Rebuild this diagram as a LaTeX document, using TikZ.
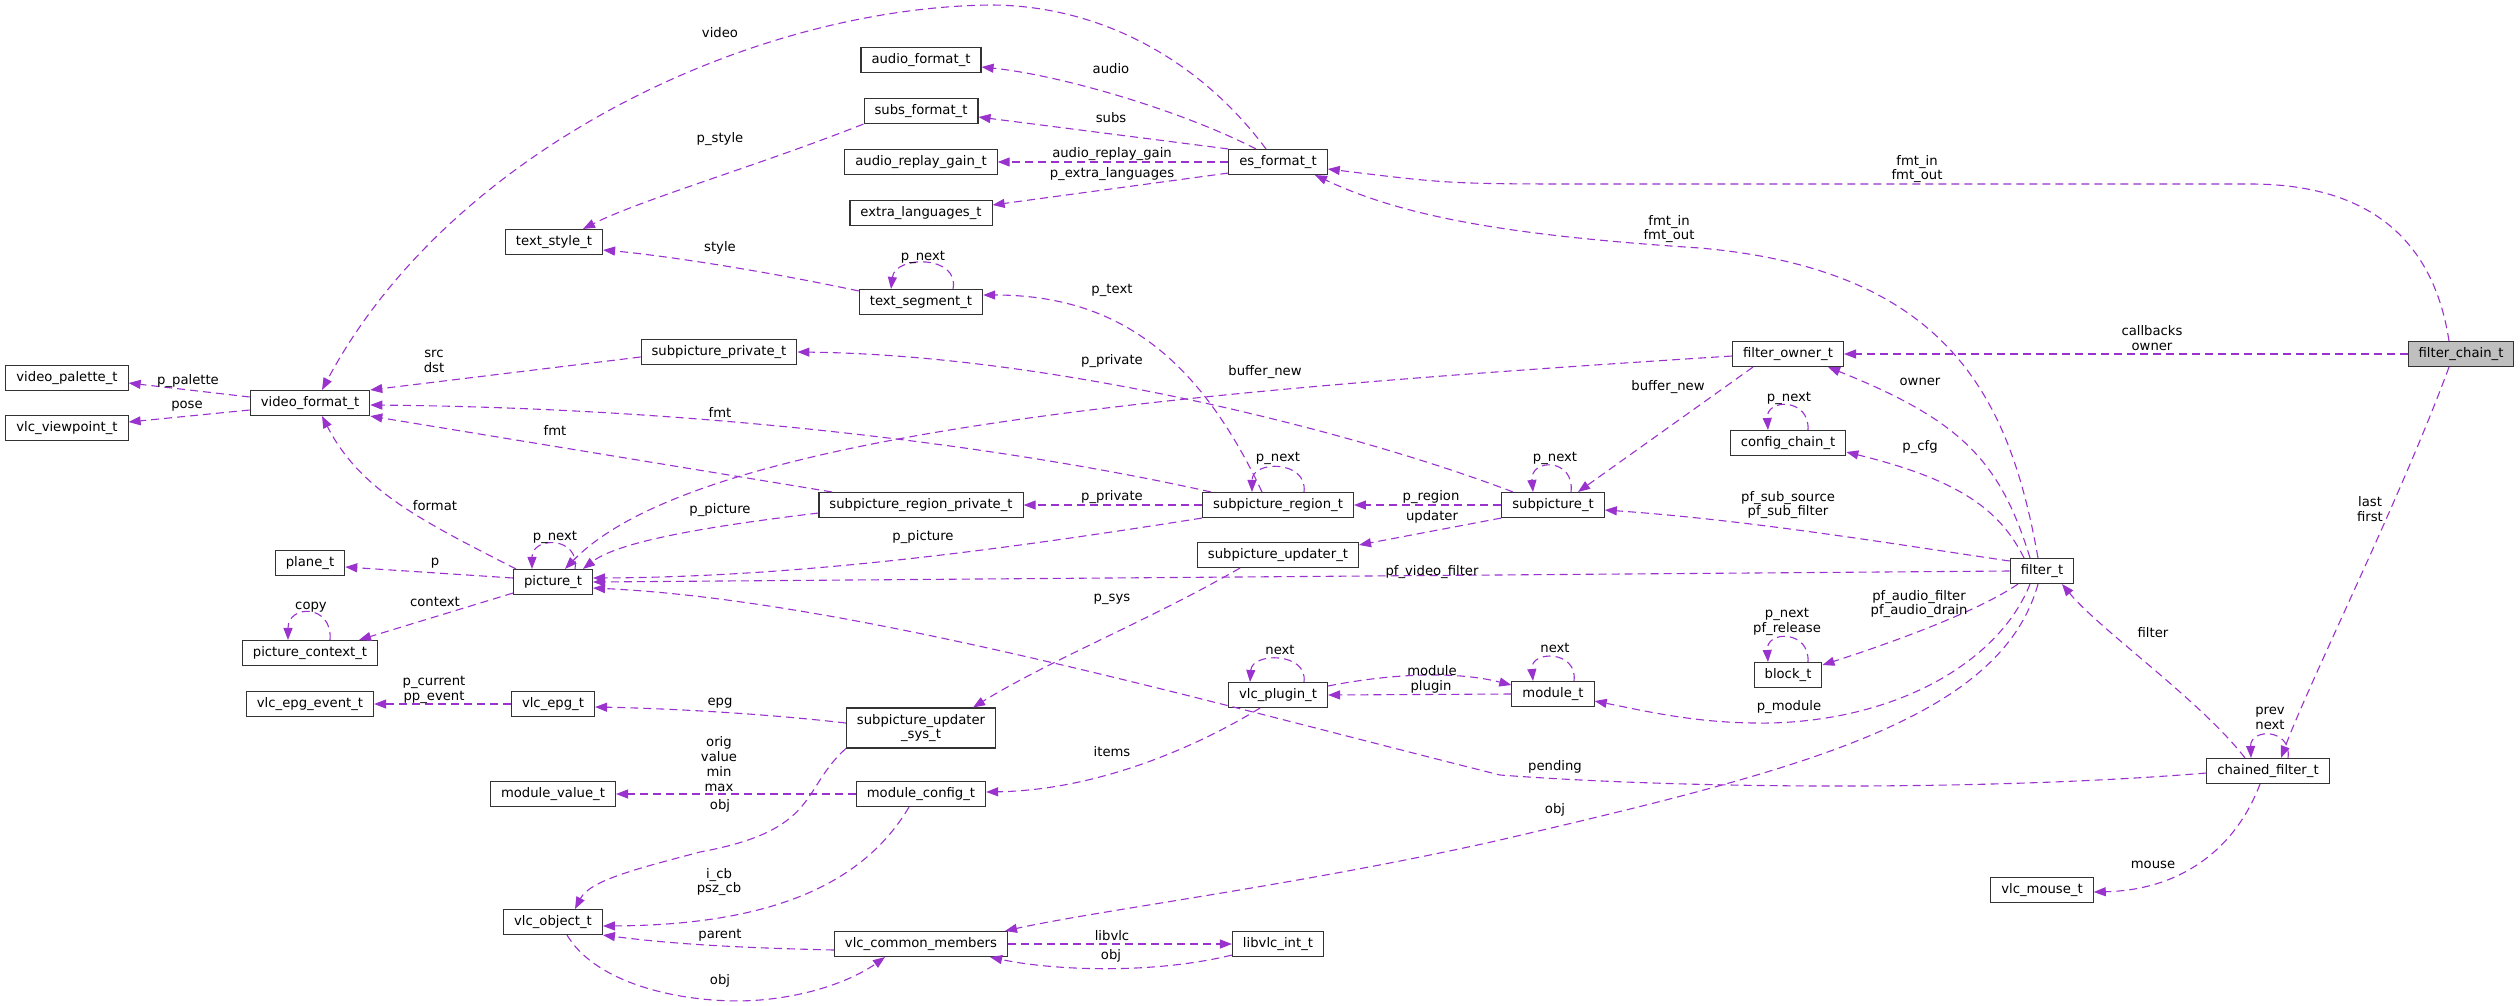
\documentclass[tikz,border=0pt]{standalone}
\usepackage{fontspec}
\setmainfont{DejaVu Sans}
\usetikzlibrary{arrows.meta}
\definecolor{usage}{RGB}{154,50,205}

\begin{document}
\begin{tikzpicture}[x=1pt,y=-1pt,
  every node/.style={font=\fontsize{13.2}{14.8}\selectfont},
  cls/.style={draw=black!80,fill=white,line width=1.1pt,inner xsep=10.5pt,inner ysep=0pt,minimum height=25pt,align=center},
  lbl/.style={inner sep=0pt,align=center},
  member/.style={draw=usage,line width=1.1pt,dash pattern=on 8pt off 5pt,-{Triangle[length=12pt,width=9pt]}}]
  \useasboundingbox (0,0) rectangle (2520,1005);
  \path (1278,162) node[cls] (es) {es\_format\_t}
  (921,60) node[cls] (afmt) {audio\_format\_t} (921,111) node[cls] (sfmt) {subs\_format\_t}
  (921,162) node[cls] (gain) {audio\_replay\_gain\_t} (921,213) node[cls] (xlang) {extra\_languages\_t}
  (554,242) node[cls] (tstyle) {text\_style\_t} (921,302) node[cls] (tseg) {text\_segment\_t}
  (67,378) node[cls] (vpal) {video\_palette\_t} (67,428) node[cls] (vview) {vlc\_viewpoint\_t}
  (310,403) node[cls] (vfmt) {video\_format\_t} (719,352) node[cls] (sppriv) {subpicture\_private\_t}
  (1788,354) node[cls] (fowner) {filter\_owner\_t} (2461,354) node[cls,fill=black!25] (fchain) {filter\_chain\_t}
  (1788,443) node[cls] (cfgchain) {config\_chain\_t} (310,563) node[cls] (plane) {plane\_t}
  (553,582) node[cls] (pic) {picture\_t} (921,505) node[cls] (srpriv) {subpicture\_region\_private\_t}
  (1278,505) node[cls] (sregion) {subpicture\_region\_t} (1553,505) node[cls] (spu) {subpicture\_t}
  (1278,555) node[cls] (supd) {subpicture\_updater\_t} (2042,571) node[cls] (filter) {filter\_t}
  (310,653) node[cls] (picctx) {picture\_context\_t} (1788,675) node[cls] (block) {block\_t}
  (310,704) node[cls] (epgev) {vlc\_epg\_event\_t} (553,704) node[cls] (epg) {vlc\_epg\_t}
  (921,728) node[cls,minimum height=40pt] (supdsys) {subpicture\_updater\\\_sys\_t}
  (1278,695) node[cls] (plugin) {vlc\_plugin\_t} (1553,694) node[cls] (module) {module\_t}
  (2268,771) node[cls] (chained) {chained\_filter\_t} (553,794) node[cls] (modval) {module\_value\_t}
  (921,794) node[cls] (modcfg) {module\_config\_t} (553,922) node[cls] (vobj) {vlc\_object\_t}
  (921,944) node[cls] (common) {vlc\_common\_members} (1278,944) node[cls] (libvlc) {libvlc\_int\_t}
  (2042,890) node[cls] (mouse) {vlc\_mouse\_t};

  \draw[member] ([xshift=-12pt]es.north) .. controls (1200,60) and (1100,5) .. (990,5) .. controls (750,8) and (450,150) .. ([xshift=12pt]vfmt.north);
  \draw[member] ([xshift=-22pt]es.north) .. controls (1180,110) and (1060,75) .. ([yshift=-7pt]afmt.east);
  \draw[member] (es.north west) -- ([yshift=-6pt]sfmt.east);
  \draw[member] (es.west) -- (gain.east);
  \draw[member] ([yshift=2pt]es.south west) -- ([yshift=8pt]xlang.east);
  \draw[member] (sfmt.south west) .. controls (760,165) and (640,200) .. ([xshift=29pt]tstyle.north);
  \draw[member] ([yshift=-2pt]tseg.north west) .. controls (760,270) and (660,255) .. ([yshift=-8pt]tstyle.east);
  \draw[member] ([xshift=32pt]tseg.north) .. controls (960,255) and (895,255) .. ([xshift=-30pt]tseg.north);
  \draw[member] ([xshift=-16pt]sregion.north) .. controls (1200,360) and (1120,295) .. ([yshift=7pt]tseg.east);
  \draw[member] ([yshift=-5pt]sppriv.west) -- (vfmt.north east);
  \draw[member] ([yshift=6pt]vfmt.west) -- ([yshift=-5pt]vpal.east);
  \draw[member] ([yshift=-7pt]vfmt.west) -- ([yshift=6pt]vview.east);
  \draw[member] ([xshift=-67pt]sregion.north) .. controls (1000,445) and (700,408) .. ([yshift=-2pt]vfmt.east);
  \draw[member] ([xshift=-89pt]srpriv.north) -- (vfmt.south east);
  \draw[member] ([xshift=-37pt]pic.north) .. controls (420,520) and (360,490) .. ([xshift=12pt]vfmt.south);
  \draw[member] ([yshift=4pt]pic.west) -- ([yshift=-4pt]plane.east);
  \draw[member] ([xshift=22pt]pic.north) .. controls (580,536) and (532,536) .. ([xshift=-21pt]pic.north);
  \draw[member] ([yshift=2pt]pic.south west) -- ([xshift=49pt]picctx.north);
  \draw[member] ([xshift=20pt]picctx.north) .. controls (333,604) and (288,604) .. ([xshift=-22pt]picctx.north);
  \draw[member] ([yshift=-2pt]fowner.west) .. controls (1200,390) and (700,430) .. ([xshift=12pt]pic.north);
  \draw[member] ([xshift=-40pt]spu.north) .. controls (1350,430) and (1050,355) .. (sppriv.east);
  \draw[member] (sregion.west) -- (srpriv.east);
  \draw[member] ([yshift=-8pt]srpriv.west) .. controls (720,525) and (620,540) .. ([xshift=30pt]pic.north);
  \draw[member] (sregion.south west) .. controls (1000,550) and (800,577) .. ([yshift=4pt]pic.east);
  \draw[member] ([xshift=26pt]sregion.north) .. controls (1308,460) and (1252,460) .. ([xshift=-26pt]sregion.north);
  \draw[member] (spu.west) -- (sregion.east);
  \draw[member] (spu.south west) -- ([yshift=-3pt]supd.north east);
  \draw[member] ([xshift=18pt]spu.north) .. controls (1575,458) and (1530,458) .. ([xshift=-20pt]spu.north);
  \draw[member] ([xshift=-35pt]fowner.south) -- ([xshift=25pt]spu.north);
  \draw[member] (fchain.west) -- (fowner.east);
  \draw[member] ([xshift=-12pt]fchain.north) .. controls (2435,250) and (2380,184) .. (2250,184) -- (1600,184) .. controls (1450,184) .. ([yshift=-7pt]es.east);
  \draw[member] ([xshift=-4pt]filter.north) .. controls (2010,400) and (1950,270) .. (1700,248) .. controls (1500,235) and (1400,215) .. ([xshift=37pt]es.south);
  \draw[member] ([xshift=-12pt]filter.north) .. controls (2000,460) and (1960,420) .. ([xshift=40pt]fowner.south);
  \draw[member] ([xshift=20pt]cfgchain.north) .. controls (1810,398) and (1766,398) .. ([xshift=-20pt]cfgchain.north);
  \draw[member] ([xshift=-18pt]filter.north) .. controls (2000,510) and (1960,480) .. ([yshift=-9pt]cfgchain.east);
  \draw[member] ([yshift=10pt]filter.west) .. controls (1900,545) and (1750,520) .. ([yshift=-5pt]spu.east);
  \draw[member] (filter.west) -- (pic.east);
  \draw[member] ([xshift=-24pt]filter.south) .. controls (1980,610) and (1900,640) .. ([yshift=10pt]block.east);
  \draw[member] ([xshift=20pt]block.north) .. controls (1810,630) and (1766,630) .. ([xshift=-20pt]block.north);
  \draw[member] ([xshift=-12pt]filter.south) .. controls (2000,660) and (1900,720) .. (1770,723) .. controls (1700,724) and (1650,712) .. ([yshift=-7pt]module.east);
  \draw[member] ([xshift=-4pt]filter.south) .. controls (2000,720) and (1800,770) .. (1500,840) .. controls (1300,885) and (1100,910) .. ([xshift=84pt]common.north);
  \draw[member] ([xshift=-23pt]chained.north) .. controls (2200,700) and (2100,630) .. ([xshift=20pt]filter.south);
  \draw[member] ([xshift=-12pt]fchain.south) .. controls (2400,500) and (2310,680) .. ([xshift=13pt]chained.north);
  \draw[member] ([xshift=20pt]chained.north) .. controls (2292,728) and (2250,728) .. ([xshift=-17pt]chained.north);
  \draw[member] ([yshift=-2pt]chained.west) .. controls (2000,790) and (1700,790) .. (1500,775) .. controls (1200,700) and (850,600) .. ([yshift=-6pt]pic.east);
  \draw[member] ([xshift=-8pt]chained.south) .. controls (2235,850) and (2180,890) .. ([yshift=-2pt]mouse.east);
  \draw[member] ([xshift=-18pt]plugin.south) .. controls (1200,745) and (1100,790) .. ([yshift=2pt]modcfg.east);
  \draw[member] ([xshift=26pt]plugin.north) .. controls (1308,652) and (1252,652) .. ([xshift=-28pt]plugin.north);
  \draw[member] ([yshift=9pt]plugin.east) .. controls (1400,672) and (1460,672) .. ([yshift=9pt]module.west);
  \draw[member] (module.west) -- (plugin.east);
  \draw[member] ([xshift=21pt]module.north) .. controls (1578,650) and (1530,650) .. ([xshift=-20pt]module.north);
  \draw[member] (epg.west) -- (epgev.east);
  \draw[member] ([yshift=5pt]supdsys.west) .. controls (750,712) and (650,708) .. ([yshift=-3pt]epg.east);
  \draw[member] ([xshift=-38pt]supd.south) .. controls (1150,620) and (1050,660) .. ([xshift=52pt]supdsys.north);
  \draw[member] (modcfg.west) -- (modval.east);
  \draw[member] (supdsys.south west) .. controls (800,790) and (820,830) .. (700,852) .. controls (640,868) and (590,880) .. ([xshift=22pt]vobj.north);
  \draw[member] ([xshift=-12pt]modcfg.south) .. controls (860,890) and (760,925) .. ([yshift=-4pt]vobj.east);
  \draw[member] ([yshift=-6pt]common.west) .. controls (750,948) and (680,945) .. (vobj.south east);
  \draw[member] ([xshift=14pt]vobj.south) .. controls (600,990) and (700,1005) .. (760,1000) .. controls (820,995) and (860,975) .. ([xshift=-36pt]common.south);
  \draw[member] (common.east) -- (libvlc.west);
  \draw[member] ([yshift=2pt]libvlc.south west) .. controls (1150,975) and (1050,970) .. ([xshift=-18pt]common.south east);

  \path (720,33) node[lbl] (lvideo) {video} (1111,69) node[lbl] (laudio) {audio}
  (1111,118) node[lbl] (lsubs) {subs} (1112,154) node[lbl] (lgain) {audio\_replay\_gain}
  (1112,174) node[lbl] (lxlang) {p\_extra\_languages} (720,139) node[lbl] (lpstyle) {p\_style}
  (720,248) node[lbl] (lstyle) {style} (923,257) node[lbl] (ltsegnext) {p\_next}
  (1112,290) node[lbl] (lptext) {p\_text} (434,361) node[lbl] (lsrcdst) {src\\dst}
  (188,381) node[lbl] (lpal) {p\_palette} (187,406) node[lbl] (lpose) {pose}
  (720,412) node[lbl] (lfmta) {fmt} (555,430) node[lbl] (lfmtb) {fmt}
  (435,506) node[lbl] (lformat) {format} (435,563) node[lbl] (lp) {p}
  (555,537) node[lbl] (lpicnext) {p\_next} (435,602) node[lbl] (lcontext) {context}
  (311,607) node[lbl] (lcopy) {copy} (1265,372) node[lbl] (lbufa) {buffer\_new}
  (1112,361) node[lbl] (lpriva) {p\_private} (1112,497) node[lbl] (lprivb) {p\_private}
  (720,510) node[lbl] (lpica) {p\_picture} (923,537) node[lbl] (lpicb) {p\_picture}
  (1278,458) node[lbl] (lregnext) {p\_next} (1431,497) node[lbl] (lregion) {p\_region}
  (1432,517) node[lbl] (lupdater) {updater} (1555,458) node[lbl] (lspunext) {p\_next}
  (1668,387) node[lbl] (lbufb) {buffer\_new} (2152,338) node[lbl] (lcallbacks) {callbacks\\owner}
  (1917,169) node[lbl] (lfmtc) {fmt\_in\\fmt\_out} (1669,229) node[lbl] (lfmtd) {fmt\_in\\fmt\_out}
  (1920,382) node[lbl] (lowner) {owner} (1789,398) node[lbl] (lcfgnext) {p\_next}
  (1920,447) node[lbl] (lpcfg) {p\_cfg} (1788,505) node[lbl] (lsub) {pf\_sub\_source\\pf\_sub\_filter}
  (1432,572) node[lbl] (lvideof) {pf\_video\_filter} (1919,604) node[lbl] (laudiof) {pf\_audio\_filter\\pf\_audio\_drain}
  (1787,622) node[lbl] (lblocknext) {p\_next\\pf\_release} (1789,707) node[lbl] (lpmodule) {p\_module}
  (1555,810) node[lbl] (lobja) {obj} (2153,633) node[lbl] (lfilter) {filter}
  (2370,509) node[lbl] (llastfirst) {last\\first} (2270,718) node[lbl] (lprevnext) {prev\\next}
  (1555,767) node[lbl] (lpending) {pending} (2153,865) node[lbl] (lmouse) {mouse}
  (1112,752) node[lbl] (litems) {items} (1280,650) node[lbl] (lplugnext) {next}
  (1432,671) node[lbl] (lmodule) {module} (1431,687) node[lbl] (lplugin) {plugin}
  (1555,648) node[lbl] (lmodnext) {next} (434,690) node[lbl] (lepgev) {p\_current\\pp\_event}
  (720,703) node[lbl] (lepg) {epg} (1112,599) node[lbl] (lpsys) {p\_sys}
  (719,764) node[lbl] (lvalues) {orig\\value\\min\\max} (720,806) node[lbl] (lobjb) {obj}
  (719,882) node[lbl] (licb) {i\_cb\\psz\_cb} (720,935) node[lbl] (lparent) {parent}
  (720,981) node[lbl] (lobjc) {obj} (1112,936) node[lbl] (llibvlc) {libvlc}
  (1111,956) node[lbl] (lobjd) {obj};
\end{tikzpicture}
\end{document}
